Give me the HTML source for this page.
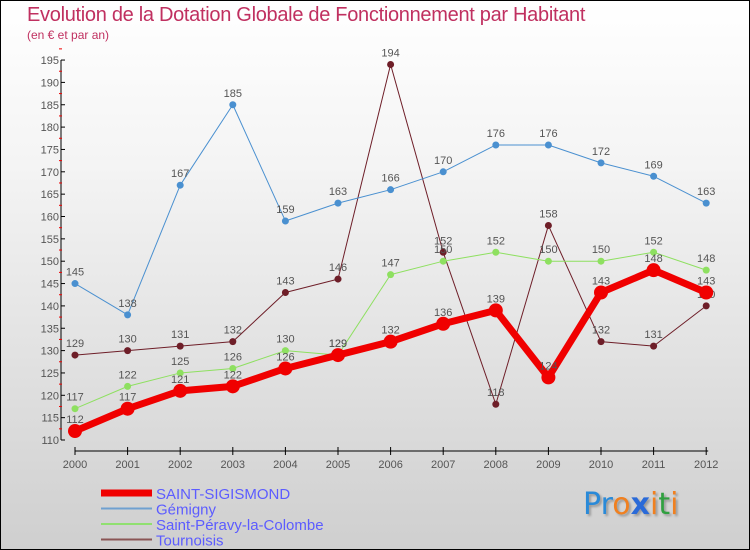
<!DOCTYPE html>
<html><head><meta charset="utf-8"><style>
body{margin:0}
#c{position:relative;width:748px;height:548px;border:1px solid #000;background:linear-gradient(#fff,#f4f4f4 30%,#cfcfcf);font-family:"Liberation Sans",sans-serif;overflow:hidden}
.t{position:absolute;white-space:nowrap}
</style></head><body>
<div id="c">
<div class="t" style="left:26px;top:3px;font-size:20px;color:#c03060;letter-spacing:-0.3px">Evolution de la Dotation Globale de Fonctionnement par Habitant</div>
<div class="t" style="left:26px;top:27px;font-size:12px;color:#c03060">(en € et par an)</div>
<svg id="s" width="748" height="548" style="position:absolute;left:0;top:0"></svg>
<div class="t" style="left:582px;top:486px;font-size:30px;font-family:'DejaVu Sans',sans-serif;text-shadow:2px 2px 2px #999"><span style="color:#2a8ad8">Pr</span><span style="color:#f08020">o</span><span style="color:#2a6ad8;font-weight:bold">x</span><span style="color:#f08020">i</span><span style="color:#30a040">t</span><span style="color:#f08020">i</span></div>
</div>
<script>
const years=[2000,2001,2002,2003,2004,2005,2006,2007,2008,2009,2010,2011,2012];
const sigismond=[112,117,121,122,126,129,132,136,139,124,143,148,143];
const gemigny=[145,138,167,185,159,163,166,170,176,176,172,169,163];
const peravy=[117,122,125,126,130,129,147,150,152,150,150,152,148];
const tournoisis=[129,130,131,132,143,146,194,152,118,158,132,131,140];
const yTicks=[110,115,120,125,130,135,140,145,150,155,160,165,170,175,180,185,190,195];
const ns="http://www.w3.org/2000/svg",s=document.getElementById('s');
const X=i=>74+i*52.6, Y=v=>439-(v-110)*4.47;
function el(t,a,p){const e=document.createElementNS(ns,t);for(const k in a)e.setAttribute(k,a[k]);(p||s).appendChild(e);return e;}
function tx(x,y,str,anchor,name,size,col){const e=el('text',{x:x,y:y,'text-anchor':anchor,'font-size':size||11,fill:col||'#555','font-family':'Liberation Sans, sans-serif'});e.textContent=str;return e;}
// axes
let a=el('line',{x1:60,y1:Y(195),x2:60,y2:Y(110),stroke:'#000','stroke-width':1});

a=el('line',{x1:X(0),y1:450,x2:X(12)+2,y2:450,stroke:'#000','stroke-width':1});

yTicks.forEach(v=>{el('line',{x1:60,y1:Y(v),x2:64,y2:Y(v),stroke:'#000'});el('line',{x1:58,y1:Y(v+2.5),x2:61,y2:Y(v+2.5),stroke:'#e00'});tx(58,Y(v)+4,v,'end','y-tick-label',11);});
years.forEach((y,i)=>{el('line',{x1:X(i),y1:446,x2:X(i),y2:454,stroke:'#000'});tx(X(i),467,y,'middle','x-tick-label',11);});
const series=[
 {d:tournoisis,c:'#6e1e28',w:1,r:3.5,n:'tournoisis'},
 {d:peravy,c:'#8ee060',w:1,r:3.5,n:'saint-peravy'},
 {d:gemigny,c:'#4a90d0',w:1,r:3.5,n:'gemigny'},
 {d:sigismond,c:'#f00000',w:7,r:7,n:'saint-sigismond'}];
series.forEach(sr=>{
 const p=el('polyline',{points:sr.d.map((v,i)=>X(i)+','+Y(v)).join(' '),fill:'none',stroke:sr.c,'stroke-width':sr.w,'stroke-linejoin':'round'});
 
 sr.d.forEach((v,i)=>{const c=el('circle',{cx:X(i),cy:Y(v),r:sr.r,fill:sr.c});
 
 tx(X(i),Y(v)-8,v,'middle',sr.n+'-value',11,'#555');});
});
const leg=[['SAINT-SIGISMOND','#f00000',7],['Gémigny','#6fa0d0',2],['Saint-Péravy-la-Colombe','#90e070',2],['Tournoisis','#8a5555',2]];
leg.forEach((l,i)=>{const y=492+i*15.5;
 const ln=el('line',{x1:100,y1:y,x2:151,y2:y,stroke:l[1],'stroke-width':l[2]});
 
 tx(155,y+6,l[0],'start','legend-entry',15,'#5c5cff');});
</script>
</body></html>
